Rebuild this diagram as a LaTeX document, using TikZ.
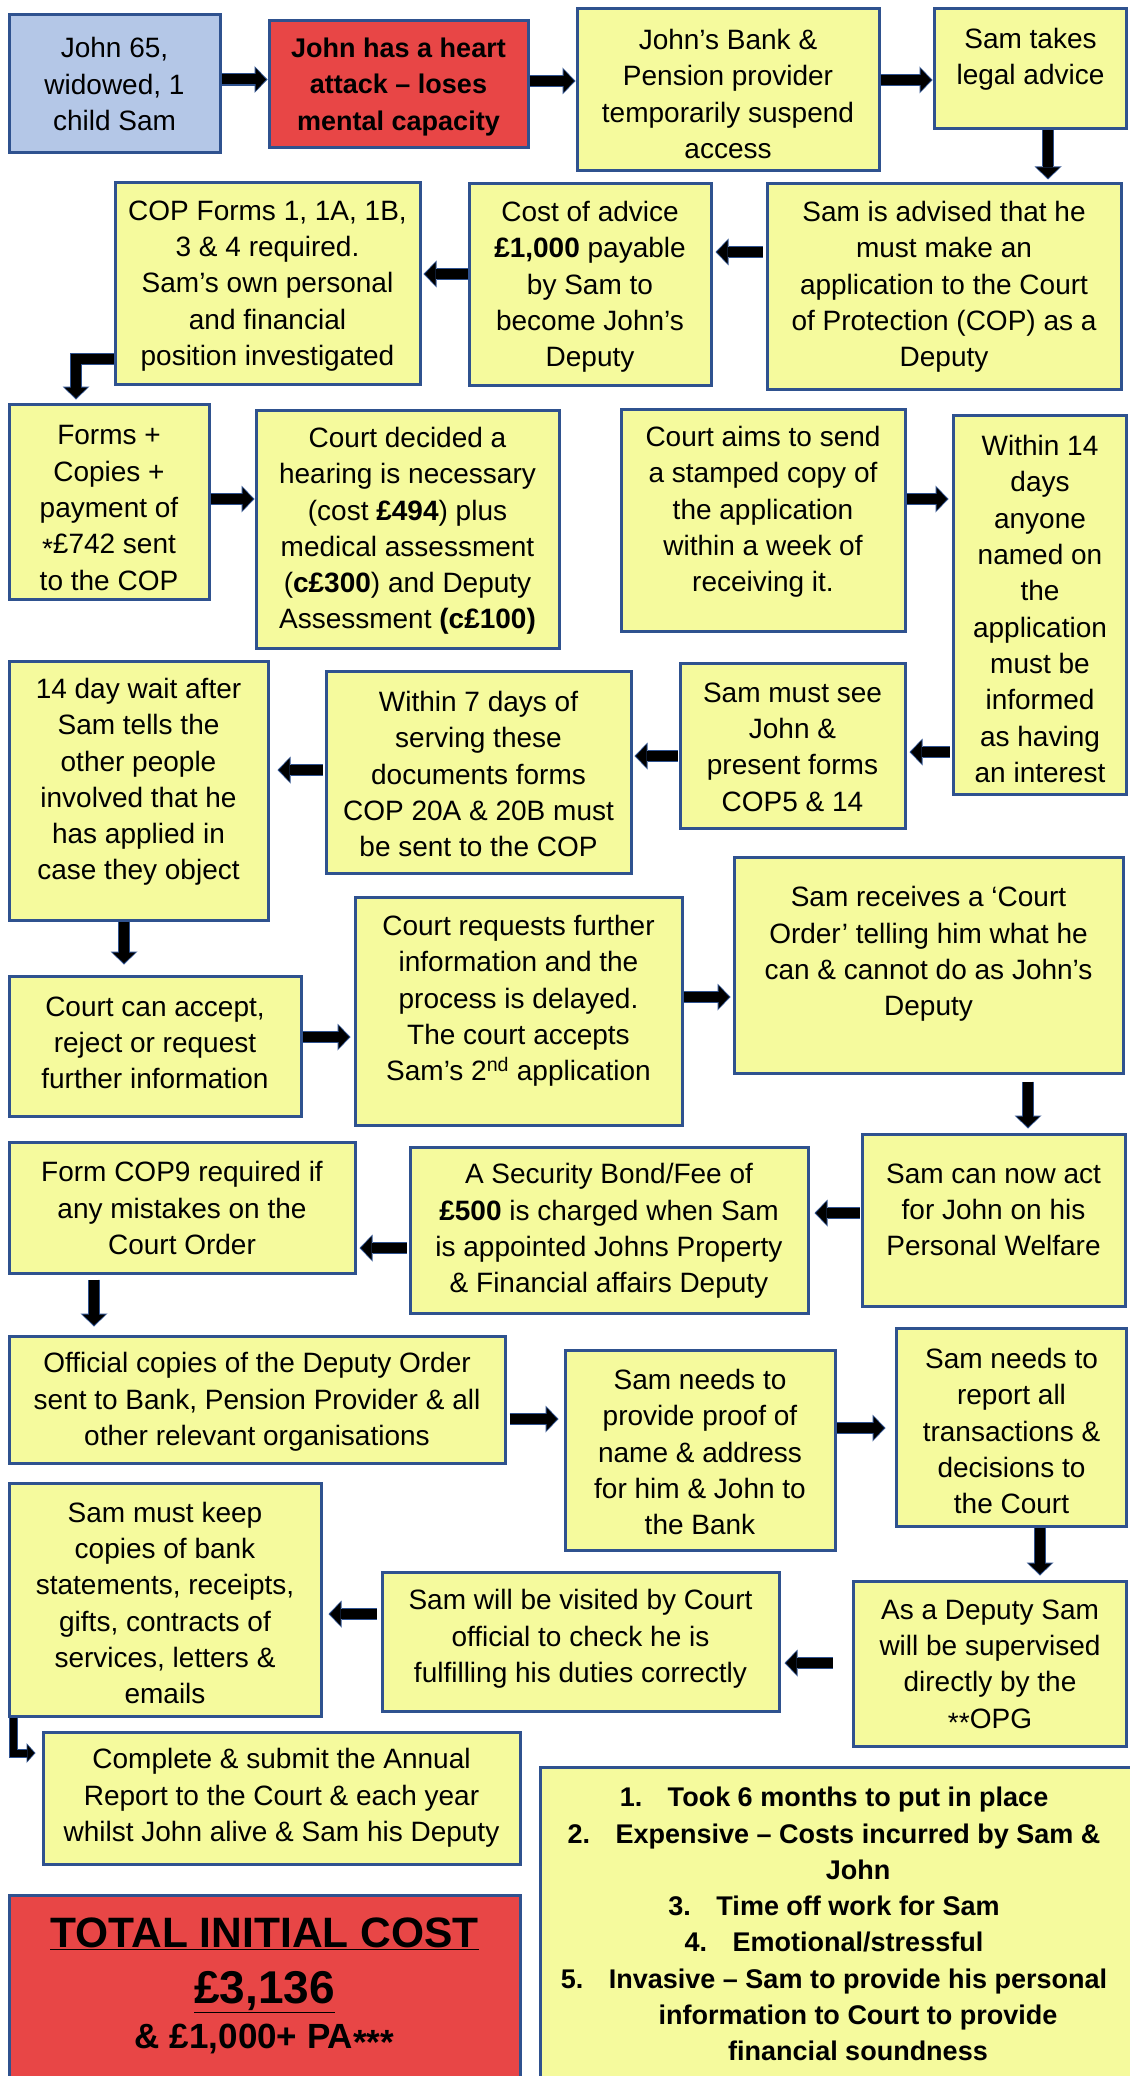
\documentclass[tikz,border=0pt]{standalone}
\usepackage{fontspec}
\setmainfont{Liberation Sans}
\usetikzlibrary{arrows.meta,fit,calc}
\definecolor{yfill}{HTML}{F5FA9D}
\definecolor{bcol}{HTML}{2F528F}
\definecolor{bluefill}{HTML}{B4C7E7}
\definecolor{redfill}{HTML}{E84646}
\newcommand\bx[6]{\node[box,#6, fit={(#2,#3)(#4,#5)}] (#1) {};}
\newcommand\farr[2][]{\path[abg,#1] #2; \path[afg,#1] #2;}
\newcommand\sarr[2][]{\path[abgs,#1] #2; \path[afgs,#1] #2;}
\newcommand\lowast{\raisebox{-0.3ex}{*}}
\begin{document}
\begin{tikzpicture}[x=1pt,y=-1pt,
  box/.style={draw=bcol, line width=3pt, fill=yfill, inner sep=0pt, outer sep=1.5pt},
  txt/.style={font=\fontsize{28}{36.3}\selectfont, align=center, inner sep=0pt},
  btxt/.style={font=\fontsize{27}{36.3}\selectfont\bfseries, align=center, inner sep=0pt},
  abg/.style={draw=bcol, line width=12.5pt, -{Triangle[length=13pt,width=27pt,line width=0pt]}},
  afg/.style={draw=black, line width=10pt, -{Triangle[length=10.5pt,width=23pt,sep=1.5pt,line width=0pt]}},
  abgs/.style={draw=bcol, line width=9pt, line join=miter, -{Triangle[length=9pt,width=20pt,line width=0pt]}},
  afgs/.style={draw=black, line width=7pt, line join=miter, -{Triangle[length=7pt,width=16pt,sep=1.2pt,line width=0pt]}}
]
\useasboundingbox (0,0) rectangle (1129,2076);
\fill[white] (0,0) rectangle (1129,2076);

% boxes
\bx{b1}{9}{15}{220}{153}{fill=bluefill}
\bx{b2}{269}{21}{528}{148}{fill=redfill}
\bx{b3}{577}{9}{879}{171}{}
\bx{b4}{934}{9}{1126}{129}{}
\bx{b5}{767}{184}{1121}{389}{}
\bx{b6}{469}{184}{711}{385}{}
\bx{b7}{115}{183}{420}{384}{}
\bx{b8}{9}{404}{209}{599}{}
\bx{b9}{256}{410}{559}{648}{}
\bx{b10}{621}{409}{905}{631}{}
\bx{b11}{953}{415}{1126}{794}{}
\bx{b12}{680}{663}{905}{828}{}
\bx{b13}{326}{671}{631}{873}{}
\bx{b14}{9}{661}{268}{920}{}
\bx{b15}{9}{976}{301}{1116}{}
\bx{b16}{355}{897}{682}{1125}{}
\bx{b17}{734}{857}{1123}{1073}{}
\bx{b18}{862}{1134}{1125}{1306}{}
\bx{b19}{410}{1147}{808}{1313}{}
\bx{b20}{9}{1142}{355}{1273}{}
\bx{b21}{9}{1336}{505}{1463}{}
\bx{b22}{565}{1350}{835}{1550}{}
\bx{b23}{896}{1328}{1126}{1526}{}
\bx{b24}{853}{1581}{1126}{1746}{}
\bx{b25}{382}{1572}{779}{1711}{}
\bx{b26}{9}{1483}{321}{1716}{}
\bx{b27}{43}{1732}{520}{1864}{}
\bx{b28}{540}{1767}{1140}{2090}{}
\bx{b29}{9}{1895}{520}{2090}{fill=redfill}

% texts
\node[txt] (t1) at (114.5,84) {John 65,\\widowed, 1\\child Sam};
\node[btxt] (t2) at (398.5,87) {John has a heart\\attack – loses\\mental capacity};
\node[txt] (t3) at (728,94) {John’s Bank \&\\Pension provider\\temporarily suspend\\access};
\node[txt] (t4) at (1030.5,59) {Sam takes\\legal advice};
\node[txt] (t5) at (944,287) {Sam is advised that he\\must make an\\application to the Court\\of Protection (COP) as a\\Deputy};
\node[txt] (t6) at (590,287) {Cost of advice\\\textbf{£1,000} payable\\by Sam to\\become John’s\\Deputy};
\node[txt] (t7) at (267.5,286) {COP Forms 1, 1A, 1B,\\3 \& 4 required.\\Sam’s own personal\\and financial\\position investigated};
\node[txt] (t8) at (109,508) {Forms +\\Copies +\\payment of\\\lowast£742 sent\\to the COP};
\node[txt] (t9) at (407.5,531) {Court decided a\\hearing is necessary\\(cost \textbf{£494}) plus\\medical assessment\\(\textbf{c£300}) and Deputy\\Assessment \textbf{(c£100)}};
\node[txt] (t10) at (763,512) {Court aims to send\\a stamped copy of\\the application\\within a week of\\receiving it.};
\node[txt] (t11) at (1040,609) {Within 14\\days\\anyone\\named on\\the\\application\\must be\\informed\\as having\\an interest};
\node[txt] (t12) at (792.5,747) {Sam must see\\John \&\\present forms\\COP5 \& 14};
\node[txt] (t13) at (478.5,774) {Within 7 days of\\serving these\\documents forms\\COP 20A \& 20B must\\be sent to the COP};
\node[txt] (t14) at (138.5,782) {14 day wait after\\Sam tells the\\other people\\involved that he\\has applied in\\case they object};
\node[txt] (t15) at (155,1043) {Court can accept,\\reject or request\\further information};
\node[txt] (t16) at (518.5,1001) {Court requests further\\information and the\\process is delayed.\\The court accepts\\Sam’s 2\textsuperscript{nd} application};
\node[txt] (t17) at (928.5,954) {Sam receives a ‘Court\\Order’ telling him what he\\can \& cannot do as John’s\\Deputy};
\node[txt] (t18) at (993.5,1210) {Sam can now act\\for John on his\\Personal Welfare};
\node[txt] (t19) at (609,1231) {A Security Bond/Fee of\\\textbf{£500} is charged when Sam\\is appointed Johns Property\\\& Financial affairs Deputy};
\node[txt] (t20) at (182,1208) {Form COP9 required if\\any mistakes on the\\Court Order};
\node[txt] (t21) at (257,1402) {Official copies of the Deputy Order\\sent to Bank, Pension Provider \& all\\other relevant organisations};
\node[txt] (t22) at (700,1452) {Sam needs to\\provide proof of\\name \& address\\for him \& John to\\the Bank};
\node[txt] (t23) at (1011.5,1431) {Sam needs to\\report all\\transactions \&\\decisions to\\the Court};
\node[txt] (t24) at (990,1666) {As a Deputy Sam\\will be supervised\\directly by the\\\lowast\lowast OPG};
\node[txt] (t25) at (580.5,1639) {Sam will be visited by Court\\official to check he is\\fulfilling his duties correctly};
\node[txt] (t26) at (165,1603) {Sam must keep\\copies of bank\\statements, receipts,\\gifts, contracts of\\services, letters \&\\emails};
\node[txt] (t27) at (281.5,1798) {Complete \& submit the Annual\\Report to the Court \& each year\\whilst John alive \& Sam his Deputy};
\node[btxt, anchor=north] (t28) at (834,1787) {\makebox[48pt][l]{1.}Took 6 months to put in place\\
\makebox[48pt][l]{2.}Expensive – Costs incurred by Sam \&\\
\hspace*{48pt}John\\
\makebox[48pt][l]{3.}Time off work for Sam\\
\makebox[48pt][l]{4.}Emotional/stressful\\
\makebox[48pt][l]{5.}Invasive – Sam to provide his personal\\
\hspace*{48pt}information to Court to provide\\
\hspace*{48pt}financial soundness};
\node[inner sep=0pt, font=\fontsize{42.5}{48}\selectfont\bfseries] (t29a) at (264.5,1934) {\underline{TOTAL INITIAL COST}};
\node[inner sep=0pt, font=\fontsize{46}{52}\selectfont\bfseries] (t29b) at (264.5,1992) {\underline{£3,136}};
\node[inner sep=0pt, font=\fontsize{35}{40}\selectfont\bfseries] (t29c) at (264.5,2039) {\& £1,000+ PA\lowast\lowast\lowast};

% arrows
\farr{(b1.east |- 0,79.5) -- (b2.west |- 0,79.5)}
\farr{(b2.east |- 0,81) -- (b3.west |- 0,81)}
\farr{(b3.east |- 0,80) -- (b4.west |- 0,80)}
\farr[shorten >=3pt]{(b4.south -| 1048,0) -- (b5.north -| 1048,0)}
\farr[shorten >=3pt, shorten <=3pt]{(b5.west |- 0,252) -- (b6.east |- 0,252)}
\farr[shorten >=2pt]{(b6.west |- 0,274) -- (b7.east |- 0,274)}
\farr[line join=miter, shorten >=3pt]{(b7.west |- 0,359) -| (76,0 |- b8.north)}
\farr{(b8.east |- 0,499) -- (b9.west |- 0,499)}
\farr[shorten >=3pt]{(b10.east |- 0,499) -- (b11.west |- 0,499)}
\farr[shorten <=2pt, shorten >=3pt]{(b11.west |- 0,752) -- (b12.east |- 0,752)}
\farr[shorten <=1pt, shorten >=2pt]{(b12.west |- 0,756) -- (b13.east |- 0,756)}
\farr[shorten <=2pt, shorten >=8pt]{(b13.west |- 0,770) -- (b14.east |- 0,770)}
\farr[shorten >=10pt]{(b14.south -| 124,0) -- (b15.north -| 124,0)}
\farr[shorten >=3pt]{(b15.east |- 0,1037) -- (b16.west |- 0,1037)}
\farr[shorten >=2pt]{(b16.east |- 0,997) -- (b17.west |- 0,997)}
\farr[shorten <=7pt, shorten >=4pt]{(b17.south -| 1028,0) -- (b18.north -| 1028,0)}
\farr[shorten <=1pt, shorten >=5pt]{(b18.west |- 0,1213) -- (b19.east |- 0,1213)}
\farr[shorten <=2pt, shorten >=3pt]{(b19.west |- 0,1248) -- (b20.east |- 0,1248)}
\farr[shorten <=5pt, shorten >=8pt]{(b20.south -| 94,0) -- (b21.north -| 94,0)}
\farr[shorten <=3pt, shorten >=5pt]{(b21.east |- 0,1419) -- (b22.west |- 0,1419)}
\farr[shorten >=9pt]{(b22.east |- 0,1428) -- (b23.west |- 0,1428)}
\farr[shorten >=4pt]{(b23.south -| 1040,0) -- (b24.north -| 1040,0)}
\farr[shorten <=19pt, shorten >=4pt]{(b24.west |- 0,1663) -- (b25.east |- 0,1663)}
\farr[shorten <=4pt, shorten >=6pt]{(b25.west |- 0,1614) -- (b26.east |- 0,1614)}
\sarr[shorten >=6pt]{(13,0 |- b26.south) |- (b27.west |- 0,1753)}
\end{tikzpicture}
\end{document}
